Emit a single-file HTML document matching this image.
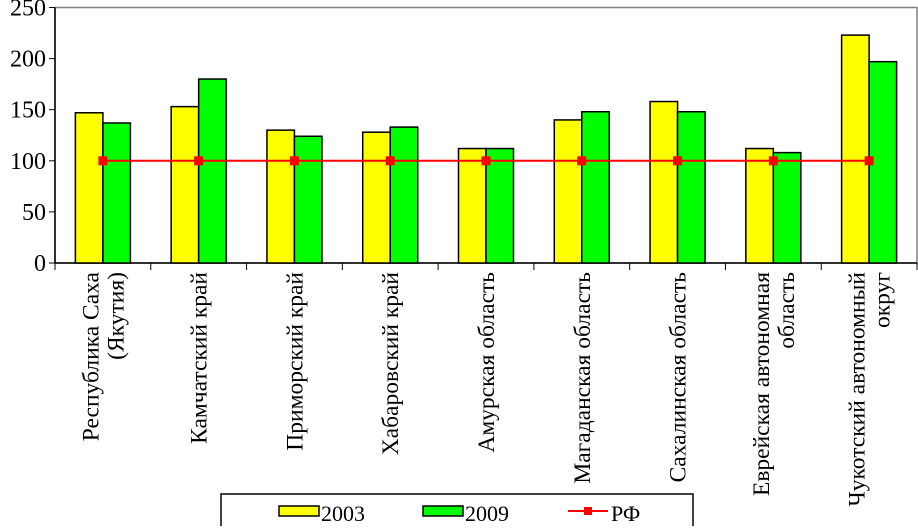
<!DOCTYPE html>
<html><head><meta charset="utf-8"><style>
body{margin:0;background:#fff;}
text{font-family:"Liberation Serif","DejaVu Serif",serif !important;fill:#000;}
</style></head><body>
<svg id="c" width="918" height="526" font-family="'Liberation Serif', serif" style="font-family:'Liberation Serif',serif"></svg>
<script>
const categories=[["Республика Саха","(Якутия)"],["Камчатский край"],["Приморский край"],["Хабаровский край"],["Амурская область"],["Магаданская область"],["Сахалинская область"],["Еврейская автономная","область"],["Чукотский автономный","округ"]];
const s2003=[147,153,130,128,112,140,158,112,223];
const s2009=[137,180,124,133,112,148,148,108,197];
const rf=[100,100,100,100,100,100,100,100,100];
const yTicks=[0,50,100,150,200,250];
const NS="http://www.w3.org/2000/svg";
const svg=document.getElementById('c');
const L=55,R=917,T=7.5,B=263,yMax=250;
const y=v=>B-(B-T)*v/yMax;
const cw=(R-L)/categories.length;
const cx=i=>L+cw*(i+0.5);
const FF="'Liberation Serif', serif";
function mk(t,a,p){const e=document.createElementNS(NS,t);for(const k in a)e.setAttribute(k,a[k]);if(t==='text')e.setAttribute('font-family',FF);(p||svg).appendChild(e);return e;}
let e=mk('rect',{x:L,y:T,width:R-L,height:B-T,fill:'none',stroke:'#808080','stroke-width':1.5});

yTicks.forEach(v=>{
 e=mk('line',{x1:L-6,x2:L,y1:y(v),y2:y(v),stroke:'#000'});
 
 e=mk('text',{x:L-9,y:y(v)+8,'text-anchor':'end','font-size':24});e.textContent=v;
 
});
e=mk('line',{x1:L,x2:L,y1:T,y2:B,stroke:'#000','stroke-width':1.5});

e=mk('line',{x1:L,x2:R,y1:B,y2:B,stroke:'#000','stroke-width':1.5});

for(let i=0;i<=categories.length;i++){
 e=mk('line',{x1:L+cw*i,x2:L+cw*i,y1:B,y2:B+7,stroke:'#000'});
 
}
const bw=27.5;
categories.forEach((c,i)=>{
 e=mk('rect',{x:cx(i)-bw,y:y(s2003[i]),width:bw,height:B-y(s2003[i]),fill:'#ffff00',stroke:'#000','stroke-width':1.5});
 
 e=mk('rect',{x:cx(i),y:y(s2009[i]),width:bw,height:B-y(s2009[i]),fill:'#00ff00',stroke:'#000','stroke-width':1.5});
 
 const n=c.length,lh=25;
 c.forEach((ln,j)=>{
  const xx=cx(i)+8-(n-1)*lh/2+j*lh;
  e=mk('text',{x:0,y:0,'text-anchor':'end','font-size':23.5,transform:`translate(${xx},272) rotate(-90)`});e.textContent=ln;
  
 });
});
let pts=rf.map((v,i)=>cx(i)+','+y(v)).join(' ');
e=mk('polyline',{points:pts,fill:'none',stroke:'#ff0000','stroke-width':2});

rf.forEach((v,i)=>{
 e=mk('rect',{x:cx(i)-4.5,y:y(v)-4.5,width:9,height:9,fill:'#ff0000'});
 
});
const lg=mk('g',{});

mk('rect',{x:221,y:494,width:472,height:33,fill:'#fff',stroke:'#000','stroke-width':1.5},lg);
e=mk('rect',{x:279,y:506,width:40,height:10,fill:'#ffff00',stroke:'#000','stroke-width':1.5},lg);

e=mk('text',{x:321,y:521,'font-size':22},lg);e.textContent='2003';

e=mk('rect',{x:423,y:506,width:40,height:10,fill:'#00ff00',stroke:'#000','stroke-width':1.5},lg);

e=mk('text',{x:465,y:521,'font-size':22},lg);e.textContent='2009';

e=mk('line',{x1:568,x2:608,y1:511,y2:511,stroke:'#ff0000','stroke-width':2},lg);

mk('rect',{x:584,y:507,width:8,height:8,fill:'#ff0000'},lg);
e=mk('text',{x:611,y:521,'font-size':22},lg);e.textContent='РФ';

</script>
</body></html>
